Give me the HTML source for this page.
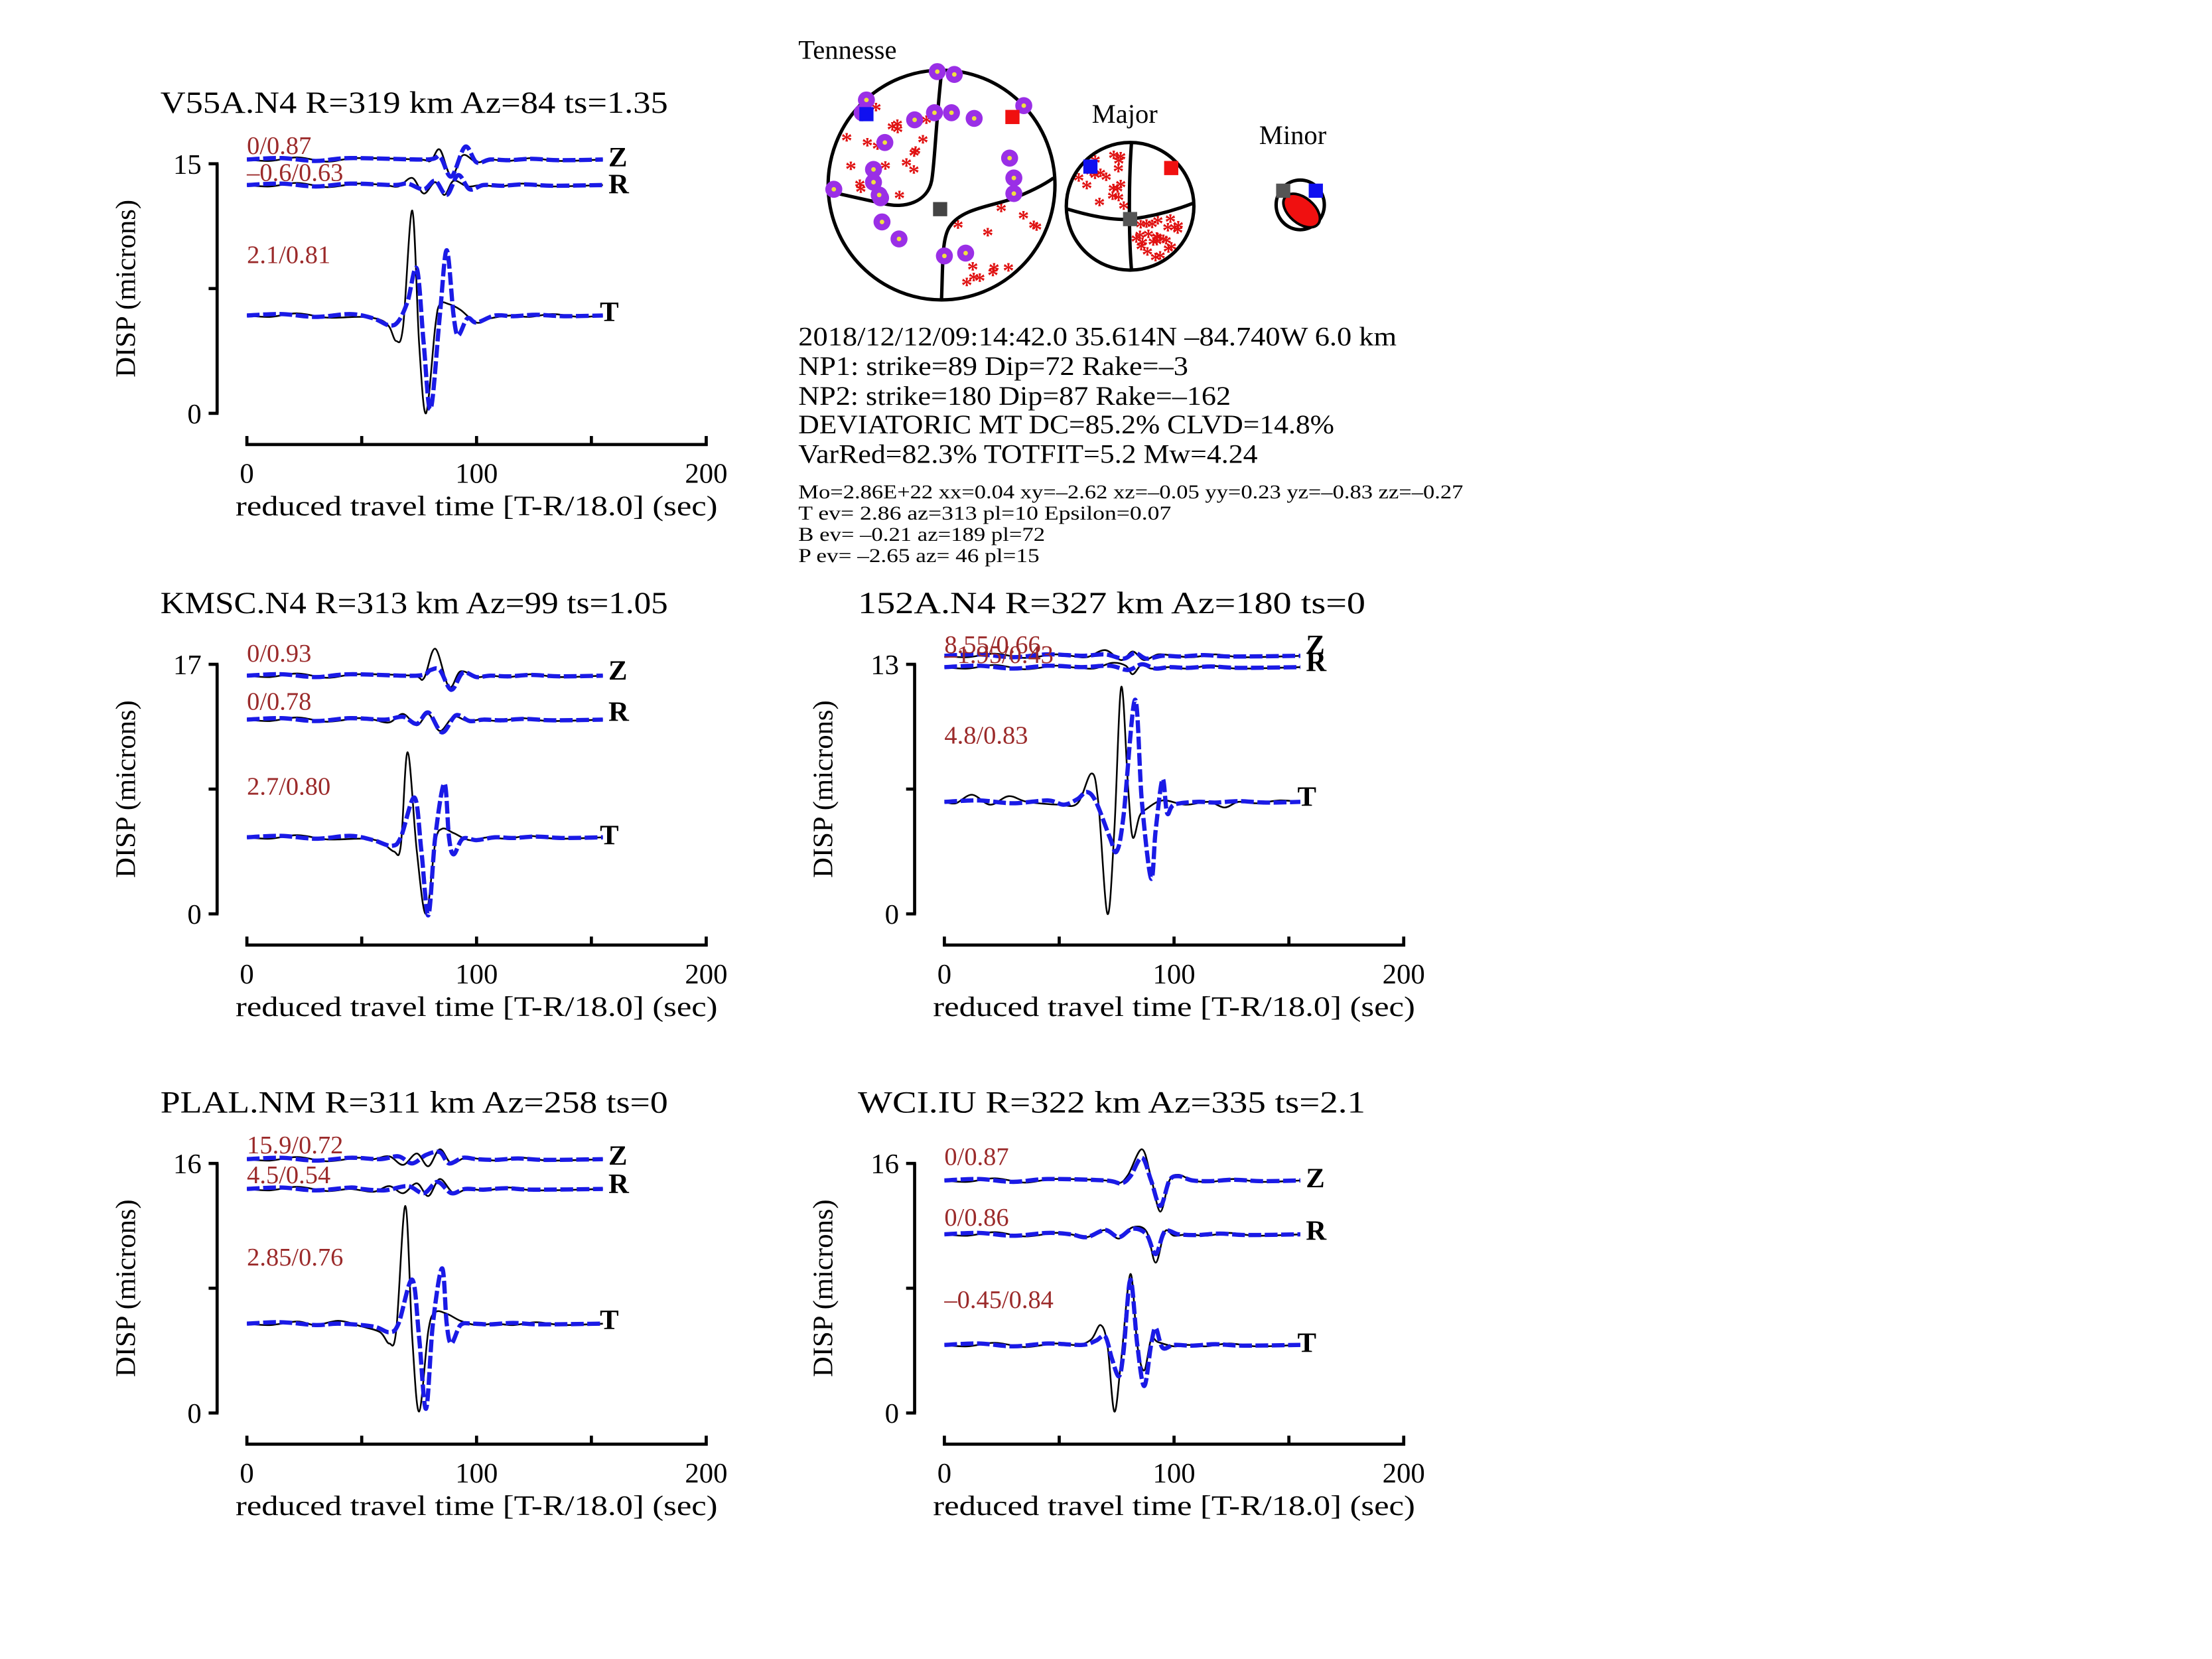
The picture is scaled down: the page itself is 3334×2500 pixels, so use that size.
<!DOCTYPE html>
<html><head><meta charset="utf-8"><style>
html,body{margin:0;padding:0;background:#fff;}
svg{display:block;}
text{font-family:"Liberation Serif",serif;}
</style></head><body>
<svg id="s" xmlns="http://www.w3.org/2000/svg" width="3334" height="2500" viewBox="0 0 1560 1170">
<rect width="1560" height="1170" fill="#fff"/>
<g transform="translate(-2,-2.5)">
<g id="panels"></g>
<g id="beach"></g>
<g font-size="19" fill="#000">
<text x="565" y="246" textLength="422" lengthAdjust="spacingAndGlyphs">2018/12/12/09:14:42.0 35.614N –84.740W 6.0 km</text>
<text x="565" y="267" textLength="275" lengthAdjust="spacingAndGlyphs">NP1: strike=89 Dip=72 Rake=–3</text>
<text x="565" y="288" textLength="305" lengthAdjust="spacingAndGlyphs">NP2: strike=180 Dip=87 Rake=–162</text>
<text x="565" y="308" textLength="378" lengthAdjust="spacingAndGlyphs">DEVIATORIC MT DC=85.2% CLVD=14.8%</text>
<text x="565" y="329" textLength="324" lengthAdjust="spacingAndGlyphs">VarRed=82.3% TOTFIT=5.2 Mw=4.24</text>
</g>
<g font-size="14" fill="#000">
<text x="565" y="354" textLength="469" lengthAdjust="spacingAndGlyphs">Mo=2.86E+22 xx=0.04 xy=–2.62 xz=–0.05 yy=0.23 yz=–0.83 zz=–0.27</text>
<text x="565" y="369" textLength="263" lengthAdjust="spacingAndGlyphs">T ev=  2.86 az=313 pl=10 Epsilon=0.07</text>
<text x="565" y="384" textLength="174" lengthAdjust="spacingAndGlyphs">B ev= –0.21 az=189 pl=72</text>
<text x="565" y="399" textLength="170" lengthAdjust="spacingAndGlyphs">P ev= –2.65 az= 46 pl=15</text>
</g>
<g font-size="19" fill="#000">
<text x="565" y="44">Tennesse</text>
<text x="772" y="89">Major</text>
<text x="890" y="104">Minor</text>
</g>
</g>
</svg>
<script>
var NS="http://www.w3.org/2000/svg";
function el(tag,attrs,parent,txt){var e=document.createElementNS(NS,tag);for(var k in attrs)e.setAttribute(k,attrs[k]);if(txt!==undefined)e.textContent=txt;parent.appendChild(e);return e;}
function smooth(pts){var d="M"+pts[0][0].toFixed(2)+","+pts[0][1].toFixed(2);
 for(var i=0;i<pts.length-1;i++){var p0=pts[Math.max(0,i-1)],p1=pts[i],p2=pts[i+1],p3=pts[Math.min(pts.length-1,i+2)];
 var c1x=p1[0]+(p2[0]-p0[0])/6,c1y=p1[1]+(p2[1]-p0[1])/6,c2x=p2[0]-(p3[0]-p1[0])/6,c2y=p2[1]-(p3[1]-p1[1])/6;
 d+="C"+c1x.toFixed(2)+","+c1y.toFixed(2)+" "+c2x.toFixed(2)+","+c2y.toFixed(2)+" "+p2[0].toFixed(2)+","+p2[1].toFixed(2);}
 return d;}
function wave(g,base,kp,blue){
 var full=[[0,0]];var noise=blue?[[15,-1],[30,1],[45,-1]]:[[10,1],[22,-1.5],[35,1.5],[48,-1]];
 var first=kp[0][0];noise.forEach(function(n){if(n[0]<first-4)full.push(n);});
 kp.forEach(function(k){full.push(k);});
 var last=kp[kp.length-1][0];
 [[last+8,blue?0.5:1],[last+18,blue?-0.5:-1],[last+30,blue?0.5:1],[155,0]].forEach(function(n){if(n[0]<=155&&n[0]>last)full.push(n);});
 var pts=full.map(function(p){return [176+p[0]*1.62, base+p[1]];});
 if(blue) el("path",{d:smooth(pts),fill:"none",stroke:"#1a1ae6","stroke-width":3,"stroke-dasharray":"9 2.5","stroke-linecap":"butt"},g);
 else el("path",{d:smooth(pts),fill:"none",stroke:"#000","stroke-width":1.2},g);
}
var P=[
 {dx:0,dy:0,title:"V55A.N4 R=319 km Az=84 ts=1.35",top:"15",
  tr:[
   {b:115,lab:"Z",ly:114,fit:"0/0.87",fy:111,
    k:[[75,0],[80,1],[84,-7],[89,12],[94,-3],[100,2],[106,0]],
    bl:[[78,0],[84,-2],[89,12],[95,-9],[100,2],[106,0]]},
   {b:133,lab:"R",ly:133,fit:"–0.6/0.63",fy:130,
    k:[[60,0],[66,1],[72,-5],[77,6],[82,-2],[86,7],[90,-3],[96,1],[102,0]],
    bl:[[64,0],[70,-1],[77,3],[82,-3],[87,7],[92,-7],[97,3],[103,0]]},
   {b:225,lab:"T",ly:223,fit:"2.1/0.81",fy:188,
    k:[[50,1],[58,3],[62,8],[65,18],[68,8],[72,-74],[75,20],[78,69],[82,8],[84,-8],[88,-8],[93,-4],[100,5],[106,2],[115,0]],
    bl:[[55,2],[62,7],[66,4],[70,-10],[74,-33],[77,20],[80,66],[84,0],[87,-46],[90,0],[92,14],[96,2],[100,5],[108,0]]}]},
 {dx:0,dy:353,title:"KMSC.N4 R=313 km Az=99 ts=1.05",top:"17",
  tr:[
   {b:126,lab:"Z",ly:123,fit:"0/0.93",fy:116,
    k:[[72,0],[77,2],[82,-19],[88,8],[93,-3],[100,1],[106,0]],
    bl:[[74,0],[80,-4],[84,-4],[89,10],[94,-2],[100,1],[106,0]]},
   {b:157,lab:"R",ly:152,fit:"0/0.78",fy:150,
    k:[[55,0],[62,2],[68,-4],[74,4],[79,-4],[84,8],[90,-2],[96,1],[102,0]],
    bl:[[60,0],[68,-2],[74,3],[79,-5],[85,9],[91,-3],[97,1],[103,0]]},
   {b:240,lab:"T",ly:239,fit:"2.7/0.80",fy:210,
    k:[[50,1],[58,3],[64,10],[67,6],[70,-60],[74,10],[78,54],[82,4],[85,-6],[90,-3],[97,2],[105,0]],
    bl:[[55,2],[63,6],[67,0],[73,-28],[76,10],[79,55],[82,0],[86,-38],[88,0],[90,12],[94,1],[100,2],[108,0]]}]},
 {dx:492,dy:353,title:"152A.N4 R=327 km Az=180 ts=0",top:"13",
  tr:[
   {b:112,lab:"Z",ly:458,fit:"8.55/0.66",fy:110,
    k:[[55,0],[62,1],[70,-4],[77,3],[82,-3],[87,3],[93,-1],[100,0]],
    bl:[[60,0],[70,-1],[78,2],[83,-2],[88,2],[95,0]]},
   {b:120,lab:"R",ly:470,fit:"–1.95/0.43",fy:117,
    k:[[55,0],[65,1],[73,-3],[79,-1],[82,5],[86,-2],[90,1],[98,0]],
    bl:[[60,0],[72,-1],[80,2],[86,-2],[92,1],[98,0]]},
   {b:215,lab:"T",ly:212,fit:"4.8/0.83",fy:174,
    k:[[5,1],[12,-5],[20,2],[28,-4],[36,0],[50,2],[58,1],[64,-20],[67,0],[71,79],[74,20],[77,-81],[80,-10],[82,25],[85,10],[88,5],[95,-1],[105,2],[115,0],[122,4],[128,0]],
    bl:[[52,2],[58,-2],[62,-7],[66,0],[72,25],[75,35],[78,10],[83,-72],[86,0],[90,54],[92,20],[95,-16],[97,8],[100,2],[110,0]]}]},
 {dx:0,dy:705,title:"PLAL.NM R=311 km Az=258 ts=0",top:"16",
  tr:[
   {b:115,lab:"Z",ly:113,fit:"15.9/0.72",fy:111,
    k:[[55,0],[62,-2],[68,4],[74,-4],[79,5],[84,-7],[89,3],[95,-1],[102,0]],
    bl:[[58,0],[66,-2],[72,3],[78,-3],[84,-5],[88,3],[94,-1],[100,0]]},
   {b:136,lab:"R",ly:133,fit:"4.5/0.54",fy:132,
    k:[[45,0],[55,2],[62,-2],[68,3],[74,-4],[79,5],[84,-7],[90,3],[96,0]],
    bl:[[50,0],[60,1],[70,-2],[77,3],[83,-5],[89,3],[95,0]]},
   {b:231,lab:"T",ly:229,fit:"2.85/0.76",fy:190,
    k:[[30,1],[40,-2],[50,2],[58,6],[62,14],[65,5],[69,-83],[72,10],[75,62],[79,5],[82,-8],[87,-7],[93,-2],[100,1],[108,0]],
    bl:[[40,0],[55,2],[62,6],[66,0],[72,-31],[75,10],[78,60],[81,0],[85,-39],[87,0],[89,14],[93,1],[98,0]]}]},
 {dx:492,dy:705,title:"WCI.IU R=322 km Az=335 ts=2.1",top:"16",
  tr:[
   {b:130,lab:"Z",ly:129,fit:"0/0.87",fy:119,
    k:[[70,0],[76,2],[80,-4],[86,-22],[90,-2],[94,22],[98,0],[102,-4],[108,0]],
    bl:[[70,0],[77,2],[81,-3],[86,-16],[90,0],[94,18],[98,0],[102,-3],[108,0]]},
   {b:168,lab:"R",ly:166,fit:"0/0.86",fy:162,
    k:[[55,0],[62,2],[70,-3],[76,3],[82,-5],[88,-2],[92,20],[96,-2],[100,1],[106,0]],
    bl:[[55,0],[62,2],[70,-3],[76,2],[82,-4],[88,0],[92,14],[96,-2],[102,0]]},
   {b:246,lab:"T",ly:245,fit:"–0.45/0.84",fy:220,
    k:[[58,0],[64,-4],[68,-14],[71,0],[74,47],[77,10],[81,-50],[84,0],[87,18],[90,-4],[93,-2],[100,1],[106,0]],
    bl:[[60,0],[66,-3],[70,-6],[73,10],[76,22],[78,5],[81,-46],[84,0],[87,29],[90,0],[92,-12],[95,2],[100,0]]}]}
];
var root=document.getElementById("panels");
P.forEach(function(p){
 var g=el("g",{transform:"translate("+p.dx+","+p.dy+")"},root);
 el("text",{x:115,y:82,"font-size":22,textLength:358,lengthAdjust:"spacingAndGlyphs"},g,p.title);
 el("line",{x1:155,y1:118,x2:155,y2:294,stroke:"#000","stroke-width":2.2},g);
 [118,206,294].forEach(function(y){el("line",{x1:149,y1:y,x2:156,y2:y,stroke:"#000","stroke-width":2.2},g);});
 el("text",{x:144,y:125,"font-size":20,"text-anchor":"end"},g,p.top);
 el("text",{x:144,y:301,"font-size":20,"text-anchor":"end"},g,"0");
 el("text",{x:0,y:0,"font-size":20,"text-anchor":"middle",transform:"translate(97,206) rotate(-90)"},g,"DISP (microns)");
 el("line",{x1:175,y1:316,x2:501,y2:316,stroke:"#000","stroke-width":2.2},g);
 [176,257,338,419,500].forEach(function(x){el("line",{x1:x,y1:310,x2:x,y2:317,stroke:"#000","stroke-width":2.2},g);});
 [[176,"0"],[338,"100"],[500,"200"]].forEach(function(a){el("text",{x:a[0],y:343,"font-size":20,"text-anchor":"middle"},g,a[1]);});
 el("text",{x:338,y:366,"font-size":20,"text-anchor":"middle",textLength:340,lengthAdjust:"spacingAndGlyphs"},g,"reduced travel time [T-R/18.0] (sec)");
 p.tr.forEach(function(t){
  wave(g,t.b,t.k,false);
  wave(g,t.b,t.bl,true);
  var ly=t.ly>400?t.ly-353:t.ly;
  el("text",{x:t.lab=="T"?425:431,y:ly+6,"font-size":20,"font-weight":"bold"},g,t.lab);
  el("text",{x:176,y:t.fy,"font-size":18,fill:"#9b2a2a"},g,t.fit);
 });
});
var B=document.getElementById("beach");
var seed=7;function rnd(){seed=(seed*16807)%2147483647;return seed/2147483647;}
function star(x,y,par){el("text",{x:x,y:y+7,"font-size":16,"font-weight":"bold",fill:"#e01010","text-anchor":"middle","font-family":"Liberation Sans, sans-serif"},par,"*");}
for(var i=0;i<110;i++){var x=590+rnd()*155,y=58+rnd()*152;var dx=(x-666)/80,dy=(y-133)/81;if(dx*dx+dy*dy>0.92)continue;
 var ul=(x<656&&y<136)||(x<640&&y<143);var lr=(x>676&&y>156)||(x>700&&y>143);
 if(ul||lr)star(x,y,B);}
el("ellipse",{cx:666,cy:133,rx:80,ry:81,fill:"none",stroke:"#000","stroke-width":2.4},B);
el("path",{d:"M666,53 C662,90 661,120 659,130 C656,145 640,150 625,146 C610,143 598,140 588,138",fill:"none",stroke:"#000","stroke-width":2.4},B);
el("path",{d:"M666,213 C667,190 666,170 672,162 C680,150 700,148 715,143 C728,138 738,133 745,128",fill:"none",stroke:"#000","stroke-width":2.4},B);
[[663,53],[675,55],[613,73],[610,82],[626,103],[647,87],[661,82],[673,82],[689,86],[724,77],[714,114],[717,128],[717,139],[618,122],[618,131],[590,136],[623,142],[624,159],[636,171],[668,183],[683,181],[622,140]].forEach(function(c){
 el("circle",{cx:c[0],cy:c[1],r:6,fill:"#9a2fe6"},B);el("circle",{cx:c[0],cy:c[1],r:1.6,fill:"#f0e040"},B);});
el("rect",{x:608,y:78,width:10,height:10,fill:"#1010f0"},B);
el("rect",{x:711,y:80,width:10,height:10,fill:"#f01010"},B);
el("rect",{x:660,y:145,width:10,height:10,fill:"#444"},B);
for(var i=0;i<150;i++){var x=756+rnd()*88,y=105+rnd()*88;var dx=(x-799)/45,dy=(y-148)/45;if(dx*dx+dy*dy>0.85)continue;
 if((x<796&&y<150)||(x>803&&y>156))star(x,y,B);}
el("ellipse",{cx:799,cy:148,rx:45,ry:45,fill:"none",stroke:"#000","stroke-width":2.4},B);
el("path",{d:"M800,103 C798,130 798,170 800,193",fill:"none",stroke:"#000","stroke-width":2.4},B);
el("path",{d:"M755,150 C775,156 790,158 800,157 C815,155 830,151 843,146",fill:"none",stroke:"#000","stroke-width":2.4},B);
el("rect",{x:766,y:115,width:10,height:10,fill:"#1010f0"},B);
el("rect",{x:823,y:116,width:10,height:10,fill:"#f01010"},B);
el("rect",{x:794,y:152,width:10,height:10,fill:"#555"},B);
el("ellipse",{cx:919,cy:147,rx:17,ry:17.5,fill:"#fff",stroke:"#000","stroke-width":2.4},B);
el("ellipse",{cx:920,cy:151,rx:9,ry:15,fill:"#f01010",stroke:"#000","stroke-width":1.8,transform:"rotate(-50 920 151)"},B);
el("rect",{x:902,y:132,width:10,height:10,fill:"#555"},B);
el("rect",{x:925,y:132,width:10,height:10,fill:"#1010f0"},B);
</script>
</body></html>
